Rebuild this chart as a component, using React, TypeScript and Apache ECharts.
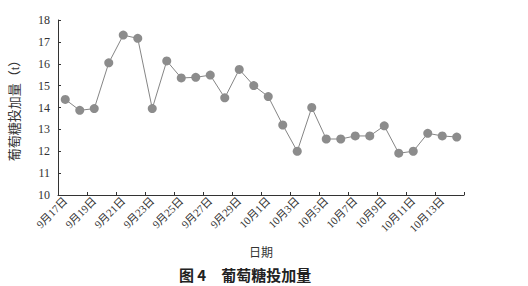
import React, { useEffect, useRef } from "react";
import * as echarts from "echarts";

const categories = [
  "9月17日", "9月18日", "9月19日", "9月20日", "9月21日", "9月22日", "9月23日",
  "9月24日", "9月25日", "9月26日", "9月27日", "9月28日", "9月29日", "9月30日",
  "10月1日", "10月2日", "10月3日", "10月4日", "10月5日", "10月6日", "10月7日",
  "10月8日", "10月9日", "10月10日", "10月11日", "10月12日", "10月13日", "10月14日",
];
const glucose = [
  14.37, 13.87, 13.95, 16.04, 17.31, 17.16, 13.95, 16.13, 15.35, 15.38, 15.48, 14.44,
  15.74, 15.0, 14.5, 13.2, 12.0, 14.0, 12.56, 12.56, 12.7, 12.7, 13.16, 11.91,
  12.0, 12.82, 12.7, 12.65,
];
const yMin = 10;
const yMax = 18;
const yInterval = 1;

const FONT = "'Liberation Serif', 'Times New Roman', 'Noto Sans CJK SC', serif";

export default function App() {
  const ref = useRef<HTMLDivElement>(null);
  useEffect(() => {
    if (!ref.current) return;
    const chart = echarts.init(ref.current, null, { renderer: "svg" });
    chart.setOption({
      animation: false,
      backgroundColor: "#ffffff",
      title: {
        text: "图 4　葡萄糖投加量",
        left: 240,
        textAlign: "center",
        top: 262,
        textStyle: {
          fontFamily: "'Noto Sans CJK SC', sans-serif",
          fontSize: 15,
          fontWeight: "bold",
          color: "#222",
        },
      },
      grid: { left: 55, right: 64, top: 20, bottom: 91, containLabel: false },
      xAxis: {
        type: "category",
        data: categories,
        boundaryGap: true,
        name: "日期",
        nameLocation: "middle",
        nameGap: 52,
        nameTextStyle: { fontFamily: FONT, fontSize: 12, color: "#333" },
        axisLine: { lineStyle: { color: "#333", width: 1 } },
        axisTick: { show: true, inside: true, length: 3, interval: 1, lineStyle: { color: "#333" } },
        axisLabel: {
          interval: 1,
          rotate: 45,
          fontFamily: FONT,
          fontSize: 11,
          color: "#333",
          margin: 4,
        },
        splitLine: { show: false },
      },
      yAxis: {
        type: "value",
        min: yMin,
        max: yMax,
        interval: yInterval,
        name: "葡萄糖投加量（t）",
        nameLocation: "middle",
        nameRotate: 90,
        nameGap: 37,
        nameTextStyle: { fontFamily: FONT, fontSize: 13, color: "#333" },
        axisLine: { show: true, lineStyle: { color: "#333", width: 1 } },
        axisTick: { show: true, inside: true, length: 3, lineStyle: { color: "#333" } },
        axisLabel: { fontFamily: FONT, fontSize: 12, color: "#333", margin: 8 },
        splitLine: { show: false },
      },
      series: [
        {
          type: "line",
          data: glucose,
          symbol: "circle",
          symbolSize: 9,
          lineStyle: { color: "#858585", width: 1 },
          itemStyle: { color: "#8c8c8c" },
        },
      ],
    });
    return () => chart.dispose();
  }, []);
  return <div ref={ref} style={{ width: 528, height: 286, position: "absolute", left: 0, top: 0 }} />;
}
